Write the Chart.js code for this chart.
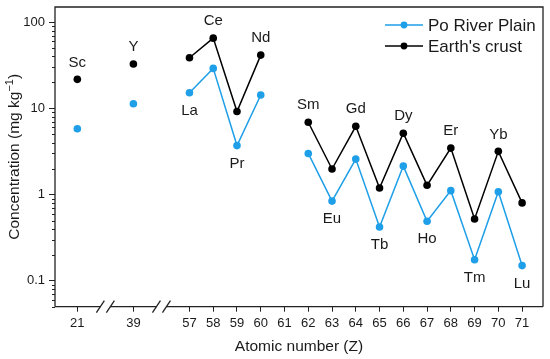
<!DOCTYPE html>
<html>
<head>
<meta charset="utf-8">
<script src="https://cdn.jsdelivr.net/npm/chart.js@4"></script>
<style>
html, body { margin: 0; padding: 0; background: #fff; }
#wrap { width: 550px; height: 359px; }
</style>
</head>
<body>
<div id="wrap"><canvas id="chart"></canvas></div>
<script>
const atomicNumbers = [21, 39, 57, 58, 59, 60, 61, 62, 63, 64, 65, 66, 67, 68, 69, 70, 71];
const elementSymbols = ['Sc', 'Y', 'La', 'Ce', 'Pr', 'Nd', '', 'Sm', 'Eu', 'Gd', 'Tb', 'Dy', 'Ho', 'Er', 'Tm', 'Yb', 'Lu'];
const labelSide = ['above', 'above', 'below', 'above', 'below', 'above', '', 'above', 'below', 'above', 'below', 'above', 'below', 'above', 'below', 'above', 'below'];
const poRiverPlain = [5.8, 11.3, 15.2, 29.1, 3.7, 14.3, null, 3.0, 0.84, 2.58, 0.42, 2.14, 0.49, 1.11, 0.175, 1.08, 0.15];
const earthsCrust = [21.7, 32.7, 38.7, 65.3, 9.2, 41.5, null, 6.9, 1.98, 6.2, 1.19, 5.15, 1.28, 3.46, 0.52, 3.17, 0.8];
const yTickValues = [0.1, 1, 10, 100];

const blue = '#1e9fe8';
const black = '#000000';
const textColor = '#1a1a1a';
const fontFamily = '"Liberation Sans", Arial, sans-serif';

// the axis is broken twice: 21 and 39 sit closer to 57 than they really are
const breakStep = 2.36;
function axisPos(z) {
    if (z >= 57) return z;
    if (z >= 39) return 57 - breakStep;
    return 57 - 2 * breakStep;
}

function seriesPoints(values) {
    return atomicNumbers.map((z, i) => ({ x: axisPos(z), y: values[i] }));
}

const frameAndLabels = {
    id: 'frame_and_labels',
    afterDraw: (chart) => {
        const ctx = chart.ctx;
        const area = chart.chartArea;
        const xs = chart.scales.x;
        const ys = chart.scales.y;
        ctx.save();

        // minor log ticks
        ctx.strokeStyle = '#222';
        ctx.lineWidth = 1;
        for (let d = 0.01; d <= 100; d *= 10) {
            for (let k = 2; k <= 9; k++) {
                let v = k * d;
                if (v < ys.min || v > ys.max) continue;
                let py = Math.round(ys.getPixelForValue(v)) + 0.5;
                ctx.beginPath();
                ctx.moveTo(area.left - 3, py);
                ctx.lineTo(area.left, py);
                ctx.stroke();
            }
        }

        // frame with axis breaks
        ctx.lineWidth = 1.3;
        ctx.strokeStyle = '#222';
        ctx.beginPath();
        ctx.moveTo(area.left, area.bottom);
        ctx.lineTo(area.left, area.top);
        ctx.lineTo(area.right, area.top);
        ctx.lineTo(area.right, area.bottom);
        ctx.stroke();

        let b1 = xs.getPixelForValue(57 - 1.5 * breakStep);
        let b2 = xs.getPixelForValue(57 - 0.5 * breakStep);
        let segs = [[area.left, b1 - 5], [b1 + 5, b2 - 5], [b2 + 5, area.right]];
        segs.forEach(s => {
            ctx.beginPath();
            ctx.moveTo(s[0], area.bottom);
            ctx.lineTo(s[1], area.bottom);
            ctx.stroke();
        });
        [b1, b2].forEach(c => {
            [c - 5, c + 5].forEach(cx => {
                ctx.beginPath();
                ctx.moveTo(cx - 4, area.bottom + 6);
                ctx.lineTo(cx + 4, area.bottom - 6);
                ctx.stroke();
            });
        });

        // element symbols
        ctx.fillStyle = textColor;
        ctx.font = '15px ' + fontFamily;
        ctx.textAlign = 'center';
        ctx.textBaseline = 'middle';
        for (let i = 0; i < atomicNumbers.length; i++) {
            if (!elementSymbols[i]) continue;
            let px = xs.getPixelForValue(axisPos(atomicNumbers[i]));
            let py;
            if (labelSide[i] == 'above') {
                py = ys.getPixelForValue(earthsCrust[i]) - 17;
            } else {
                py = ys.getPixelForValue(poRiverPlain[i]) + 18;
            }
            ctx.fillText(elementSymbols[i], px, py);
        }

        // legend
        const rows = [
            { label: chart.data.datasets[0].label, color: blue, y: area.top + 18 },
            { label: chart.data.datasets[1].label, color: black, y: area.top + 39 }
        ];
        let lx = area.right - 158;
        rows.forEach(r => {
            ctx.strokeStyle = r.color;
            ctx.lineWidth = 1.5;
            ctx.beginPath();
            ctx.moveTo(lx, r.y);
            ctx.lineTo(lx + 38, r.y);
            ctx.stroke();
            ctx.fillStyle = r.color;
            ctx.beginPath();
            ctx.arc(lx + 19, r.y, 3.4, 0, Math.PI * 2);
            ctx.fill();
            ctx.fillStyle = textColor;
            ctx.font = '17px ' + fontFamily;
            ctx.textAlign = 'left';
            ctx.fillText(r.label, lx + 43, r.y + 1);
        });

        // axis titles
        ctx.fillStyle = textColor;
        ctx.font = '15.5px ' + fontFamily;
        ctx.textAlign = 'center';
        ctx.fillText('Atomic number (Z)', (area.left + area.right) / 2, 347);

        ctx.translate(15, (area.top + area.bottom) / 2);
        ctx.rotate(-Math.PI / 2);
        let main = 'Concentration (mg kg';
        let sup = '\u22121';
        let tail = ')';
        ctx.font = '15.5px ' + fontFamily;
        let wMain = ctx.measureText(main).width;
        let wTail = ctx.measureText(tail).width;
        ctx.font = '11px ' + fontFamily;
        let wSup = ctx.measureText(sup).width;
        let start = -(wMain + wSup + wTail) / 2;
        ctx.textAlign = 'left';
        ctx.font = '15.5px ' + fontFamily;
        ctx.fillText(main, start, 0);
        ctx.font = '11px ' + fontFamily;
        ctx.fillText(sup, start + wMain, -5);
        ctx.font = '15.5px ' + fontFamily;
        ctx.fillText(tail, start + wMain + wSup, 0);

        ctx.restore();
    }
};

function lineDataset(label, values, color) {
    return {
        label: label,
        data: seriesPoints(values),
        borderColor: color,
        backgroundColor: color,
        pointBackgroundColor: color,
        pointBorderWidth: 0,
        pointRadius: 3.8,
        borderWidth: 1.5,
        spanGaps: false,
        segment: {
            borderColor: ctx => atomicNumbers[ctx.p0DataIndex] < 57 ? 'rgba(0,0,0,0)' : color
        }
    };
}

const config = {
    type: 'line',
    data: {
        datasets: [
            lineDataset('Po River Plain', poRiverPlain, blue),
            lineDataset("Earth's crust", earthsCrust, black)
        ]
    },
    options: {
        responsive: true,
        maintainAspectRatio: false,
        animation: false,
        layout: {
            padding: { top: 7, right: 7, left: 0, bottom: 0 }
        },
        plugins: {
            legend: { display: false },
            tooltip: { enabled: false }
        },
        scales: {
            x: {
                type: 'linear',
                min: 57 - 2 * breakStep - 0.94,
                max: 71.88,
                afterBuildTicks: (scale) => {
                    scale.ticks = atomicNumbers.map(z => ({ value: axisPos(z) }));
                },
                afterFit: (scale) => {
                    scale.height = 52.3;
                    scale.paddingLeft = 0;
                    scale.paddingRight = 0;
                },
                ticks: {
                    autoSkip: false,
                    maxRotation: 0,
                    padding: 4,
                    color: textColor,
                    font: { family: fontFamily, size: 13 },
                    callback: function (value, index) {
                        return String(atomicNumbers[index]);
                    }
                },
                grid: {
                    display: true,
                    drawOnChartArea: false,
                    drawTicks: true,
                    tickLength: 5,
                    color: '#222',
                    lineWidth: 1
                },
                border: { display: false }
            },
            y: {
                type: 'logarithmic',
                min: 0.05,
                max: 150,
                afterBuildTicks: (scale) => {
                    scale.ticks = yTickValues.map(v => ({ value: v }));
                },
                afterFit: (scale) => {
                    scale.width = 55;
                    scale.paddingTop = 0;
                    scale.paddingBottom = 0;
                },
                ticks: {
                    padding: 4,
                    color: textColor,
                    font: { family: fontFamily, size: 13 },
                    callback: function (value) {
                        return String(value);
                    }
                },
                grid: {
                    display: true,
                    drawOnChartArea: false,
                    drawTicks: true,
                    tickLength: 6,
                    color: '#222',
                    lineWidth: 1
                },
                border: { display: false }
            }
        }
    },
    plugins: [frameAndLabels]
};

new Chart(document.getElementById('chart'), config);
</script>
</body>
</html>
